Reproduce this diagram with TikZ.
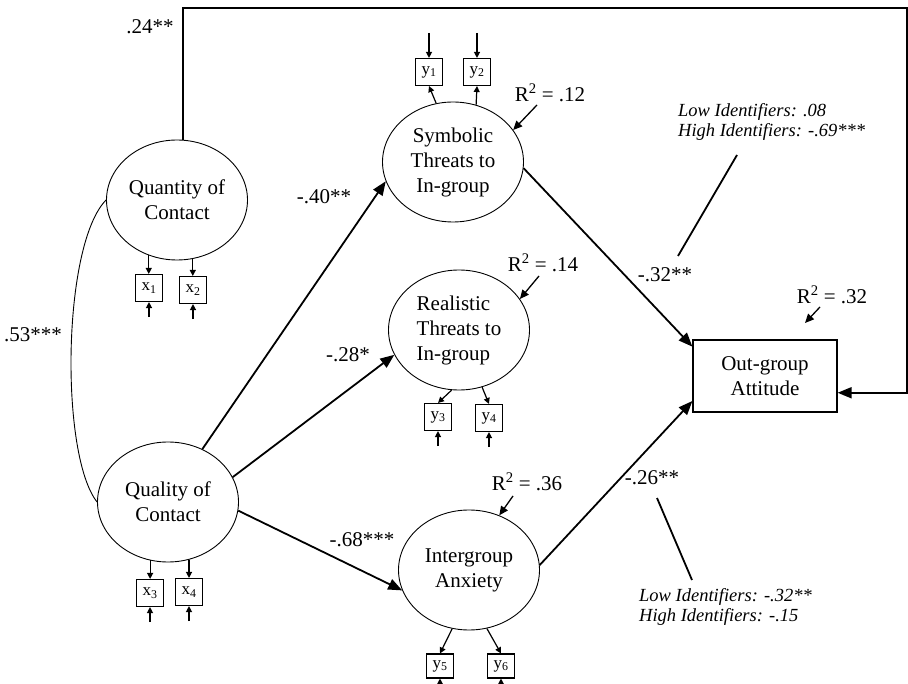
\documentclass[tikz,border=0pt]{standalone}
\usepackage{fontspec}
\setmainfont{Liberation Serif}
\usetikzlibrary{arrows.meta, positioning, shapes.geometric}

\begin{document}
\begin{tikzpicture}[x=1pt, y=-1pt,
  latent/.style={draw, ellipse, line width=0.9pt, minimum width=141pt, minimum height=120pt, inner sep=0pt, align=center, font=\fontsize{21}{25}\selectfont},
  obs/.style={draw, line width=1.2pt, minimum width=144pt, minimum height=72pt, inner sep=0pt, align=center, font=\fontsize{21}{25}\selectfont},
  ind/.style={draw, line width=1.1pt, minimum width=27pt, minimum height=27pt, inner sep=0pt, font=\fontsize{17}{17}\selectfont},
  coef/.style={inner sep=0pt, font=\fontsize{21}{24}\selectfont},
  note/.style={inner sep=0pt, align=left, font=\fontsize{18.5}{20}\selectfont\itshape},
  arr/.style={-{Triangle[length=14pt,width=11pt]}, line width=1.8pt},
  err/.style={-{Triangle[length=6pt,width=6pt]}, line width=1.2pt},
  rsq/.style={-{Triangle[length=9pt,width=8pt]}, line width=1.3pt},
  tag/.style={line width=1.8pt}]
  \useasboundingbox (0,0) rectangle (908,684);

  % latent variables and outcome
  \node[latent] (quan) at (177,200) {Quantity of\\Contact};
  \node[latent] (qual) at (168,502) {Quality of\\Contact};
  \node[latent] (symb) at (453,162) {Symbolic\\Threats to\\In-group};
  \node[latent, align=left] (real) at (459,330) {Realistic\\Threats to\\In-group};
  \node[latent] (anx) at (469,570) {Intergroup\\Anxiety};
  \node[obs] (out) at (765,376) {Out-group\\Attitude};

  % indicators
  \node[ind] (x1) at (149,288) {x\textsubscript{1}};
  \node[ind] (x2) at (193,290) {x\textsubscript{2}};
  \node[ind] (x3) at (150,593) {x\textsubscript{3}};
  \node[ind] (x4) at (189,592) {x\textsubscript{4}};
  \node[ind] (y1) at (429,72) {y\textsubscript{1}};
  \node[ind] (y2) at (477,72) {y\textsubscript{2}};
  \node[ind] (y3) at (438,417) {y\textsubscript{3}};
  \node[ind] (y4) at (489,418) {y\textsubscript{4}};
  \node[ind, minimum height=24pt] (y5) at (440,666) {y\textsubscript{5}};
  \node[ind, minimum height=24pt] (y6) at (501,666) {y\textsubscript{6}};

  \draw[err] (quan.243) -- (quan.243 |- x1.north);
  \draw[err] (quan.285) -- (quan.285 |- x2.north);
  \draw[err] (qual.253) -- (qual.253 |- x3.north);
  \draw[err] (qual.290) -- (qual.290 |- x4.north);
  \draw[err] (symb.106) -- (y1.south);
  \draw[err] (symb.68) -- (y2.south);
  \draw[err] (real.263) -- (y3.north);
  \draw[err] (real.292) -- (y4.north);
  \draw[err] (anx.254) -- (y5.north);
  \draw[err] (anx.287) -- (y6.north);
  \foreach \n in {x1,x2,x3,x4,y3,y4}
    \draw[err] (\n.south) ++(0,15) -- (\n.south);
  \foreach \n in {y5,y6}
    \draw[err] (\n.south) ++(0,6) -- (\n.south);
  \foreach \n in {y1,y2}
    \draw[err] (\n.north) ++(0,-25) -- (\n.north);

  % structural paths
  \coordinate (tr) at (907,8);
  \draw[arr] (quan.84) |- (tr) |- (out.-13);
  \draw[arr] (qual.57) -- (symb.196);
  \draw[arr] (qual.21) -- (real.201);
  \draw[arr] (qual.-7) -- (anx.197);
  \draw[arr] (symb.-5) -- (out.158);
  \draw[arr] (anx.4) -- (out.199);
  \draw[line width=0.9pt] (quan.west) .. controls (62,245) and (60,455) .. (qual.west);

  \node[coef] (c24) at (150,27) {.24**};
  \node[coef] (c53) at (33,335) {.53***};
  \node[coef] (c40) at (324,197) {-.40**};
  \node[coef] (c28) at (348,355) {-.28*};
  \node[coef] (c68) at (362,540) {-.68***};
  \node[coef] (c32) at (665,275) {-.32**};
  \node[coef] (c26) at (652,478) {-.26**};

  % explained variance
  \node[coef] (r1) at (550,93) {R\textsuperscript{2} = .12};
  \node[coef] (r2) at (543,263) {R\textsuperscript{2} = .14};
  \node[coef] (r3) at (832,295) {R\textsuperscript{2} = .32};
  \node[coef] (r4) at (527,482) {R\textsuperscript{2} = .36};
  \coordinate (r3tip) at (805,323);
  \draw[rsq] ([shift={(-13,3)}]r1.south) -- (symb.28);
  \draw[rsq] ([shift={(-4,4)}]r2.south) -- (real.27);
  \draw[rsq] ([shift={(-12,3)}]r3.south) -- (r3tip);
  \draw[rsq] ([shift={(-14,5)}]r4.south) -- (anx.61);

  % moderation by identification
  \node[note, anchor=west] (m1) at (678,122) {Low Identifiers: .08\\High Identifiers: -.69***};
  \node[note, anchor=west] (m2) at (639,607) {Low Identifiers: -.32**\\High Identifiers: -.15};
  \coordinate (m1a) at (737,155);
  \coordinate (m1b) at (678,256);
  \coordinate (m2a) at (657,498);
  \coordinate (m2b) at (692,580);
  \draw[tag] (m1a) -- (m1b);
  \draw[tag] (m2a) -- (m2b);
\end{tikzpicture}
\end{document}
